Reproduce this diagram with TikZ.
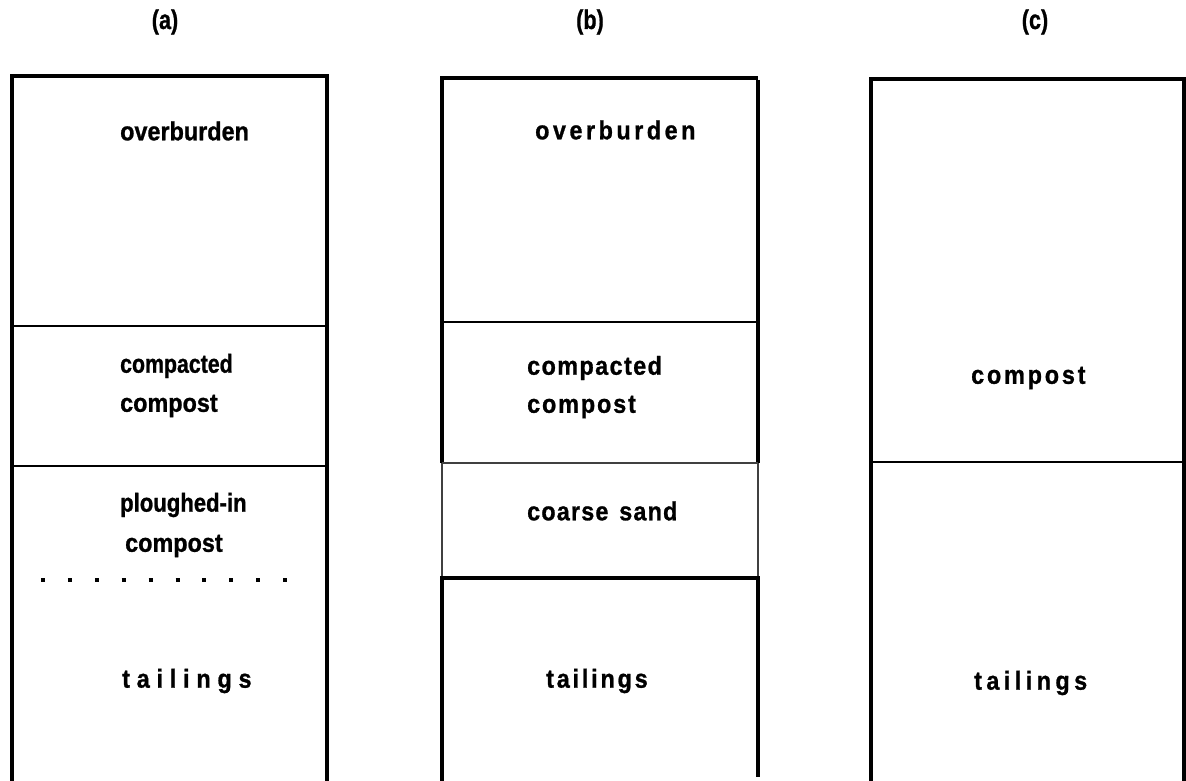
\documentclass[tikz,border=0pt]{standalone}
\usepackage{fontspec}
\setmainfont{Liberation Sans}[BoldFeatures={FakeBold=1}]
\newcommand{\ls}[2]{{\addfontfeature{LetterSpace=#1}#2}}
\begin{document}
\begin{tikzpicture}[x=1pt,y=-1pt,
  outer/.style={line width=3.6pt},
  divider/.style={line width=2pt},
  thinedge/.style={line width=1.6pt, black!75},
  layertext/.style={font=\fontsize{26}{46}\selectfont\bfseries, inner sep=0pt, xscale=0.9},
  head/.style={font=\fontsize{27}{30}\selectfont\bfseries, inner sep=0pt, xscale=0.8}]
\useasboundingbox (0,0) rectangle (1186,781);

% column headings
\node[head] (ha) at (165,22) {(a)};
\node[head] (hb) at (590,22) {(b)};
\node[head] (hc) at (1035,22) {(c)};

% ---- column (a) ----
\draw[outer] (12,781) -- (12,76) -- (327,76) -- (327,781);
\draw[divider] (12,326) -- (327,326);
\draw[divider] (12,466) -- (327,466);
\draw[line width=4pt, dash pattern=on 4pt off 22.9pt] (41,580) -- (292,580);
\node[layertext, anchor=west] (a1) at (120,131) {overburden};
\node[layertext, anchor=west, xscale=0.82/0.9] (a2a) at (120,366) {compacted};
\node[layertext, anchor=west] (a2b) at (120,406) {compost};
\node[layertext, anchor=west, xscale=0.85/0.9] (a3a) at (120,505) {ploughed-in};
\node[layertext, anchor=west] (a3b) at (125,546) {compost};
\node[layertext, anchor=west] (a4) at (122,681) {\ls{29}{tailings}};

% ---- column (b) ----
\draw[outer] (442,463) -- (442,78) -- (758,78);
\draw[outer] (758,80) -- (758,463);
\draw[divider] (442,322) -- (758,322);
\draw[thinedge, line width=2.2pt] (442,463) -- (758,463);
\draw[thinedge] (442,463) -- (442,578);
\draw[thinedge] (758,463) -- (758,578);
\draw[outer] (442,781) -- (442,578) -- (758,578) -- (758,777);
\node[layertext, anchor=west] (b1) at (535,130) {\ls{15}{overburden}};
\node[layertext, anchor=west] (b2a) at (527,368) {\ls{6}{compacted}};
\node[layertext, anchor=west] (b2b) at (527,407) {\ls{8}{compost}};
\node[layertext, anchor=west] (b3) at (527,511) {\ls{5}{coarse}\hspace{12pt}\ls{5}{sand}};
\node[layertext, anchor=west] (b4) at (546,681) {\ls{12}{tailings}};

% ---- column (c) ----
\draw[outer] (871,781) -- (871,79) -- (1184,79) -- (1184,781);
\draw[divider] (871,462) -- (1184,462);
\node[layertext, anchor=west] (c1) at (971,378) {\ls{12}{compost}};
\node[layertext, anchor=west] (c2) at (974,683) {\ls{19}{tailings}};
\end{tikzpicture}
\end{document}
